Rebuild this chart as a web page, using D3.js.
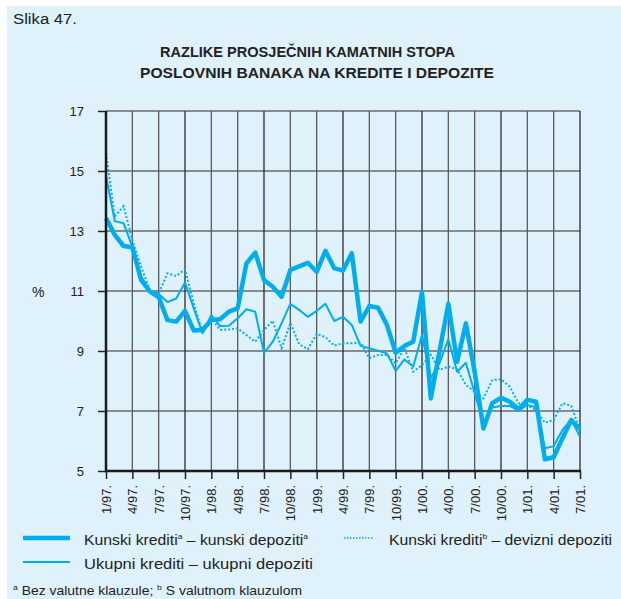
<!DOCTYPE html>
<html>
<head>
<meta charset="utf-8">
<script src="https://cdn.jsdelivr.net/npm/d3@7"></script>
<style>
  html, body { margin: 0; padding: 0; background: #ffffff; }
  svg { display: block; font-family: "Liberation Sans", Arial, sans-serif; }
</style>
</head>
<body>
<svg id="chart" width="621" height="599"></svg>
<script>
// Monthly spreads, January 1997 – July 2001 (percentage points)
const quarterLabels = ["1/97.","4/97.","7/97.","10/97.","1/98.","4/98.","7/98.","10/98.",
  "1/99.","4/99.","7/99.","10/99.","1/00.","4/00.","7/00.","10/00.","1/01.","4/01.","7/01."];

const yTicks = [5, 7, 9, 11, 13, 15, 17];

// Kunski krediti (bez valutne klauzule) – kunski depoziti
const kunskiKunski = [13.43,12.87,12.5,12.46,11.37,10.98,10.8,10.03,9.98,10.34,9.68,9.7,
  10.03,10.06,10.31,10.42,11.92,12.28,11.37,11.14,10.81,11.7,11.82,11.94,
  11.64,12.34,11.76,11.68,12.26,9.98,10.5,10.44,9.87,8.94,9.17,9.31,
  10.98,7.42,9.0,10.57,8.64,9.92,8.3,6.42,7.26,7.44,7.31,7.06,
  7.37,7.31,5.39,5.46,6.09,6.7,6.39];

// Ukupni krediti – ukupni depoziti
const ukupni = [14.83,13.33,13.26,12.48,11.48,11.0,10.9,10.63,10.75,11.28,10.42,9.59,
  10.2,9.83,9.84,10.09,10.39,10.31,8.94,9.31,9.92,10.57,10.37,10.14,
  10.34,10.57,10.0,10.14,9.87,9.17,9.09,9.01,8.92,8.34,8.72,8.48,
  9.53,8.1,8.6,9.39,8.31,8.61,7.6,6.59,7.12,7.17,7.17,7.01,
  7.2,7.12,5.76,5.83,6.37,6.72,6.14];

// Kunski krediti (s valutnom klauzulom) – devizni depoziti
const kunskiDevizni = [15.59,13.48,13.83,12.7,11.81,11.03,10.92,11.59,11.5,11.72,10.59,9.59,
  10.1,9.7,9.72,9.76,9.53,9.31,9.7,10.01,9.09,9.94,9.23,9.06,
  9.57,9.46,9.18,9.26,9.26,9.28,8.76,8.87,8.87,8.59,9.09,8.31,
  8.53,8.87,8.37,8.48,8.39,7.87,7.64,7.42,8.03,8.06,7.81,7.26,
  7.2,7.03,6.61,6.7,7.26,7.17,6.37];

const lineColor = "#00aeef";
const svg = d3.select("#chart");

// panel background
svg.append("rect").attr("x", 7).attr("y", 6).attr("width", 614).attr("height", 593)
  .attr("fill", "#dff1fb");

const plot = { left: 106, right: 580, top: 111, bottom: 471 };
const x = d3.scaleLinear().domain([0, kunskiKunski.length - 1]).range([plot.left, plot.right]);
const y = d3.scaleLinear().domain([5, 17]).range([plot.bottom, plot.top]);
const quarterIdx = quarterLabels.map((d, i) => i * 3);

// headings
svg.append("text").attr("x", 13).attr("y", 24).attr("font-size", 14).attr("fill", "#222")
  .attr("textLength", 64).attr("lengthAdjust", "spacingAndGlyphs").text("Slika 47.");
svg.append("text").attr("x", 160).attr("y", 57).attr("font-size", 14).attr("font-weight", "bold")
  .attr("fill", "#222").attr("textLength", 295).attr("lengthAdjust", "spacingAndGlyphs")
  .text("RAZLIKE PROSJEČNIH KAMATNIH STOPA");
svg.append("text").attr("x", 140).attr("y", 78).attr("font-size", 14).attr("font-weight", "bold")
  .attr("fill", "#222").attr("textLength", 354).attr("lengthAdjust", "spacingAndGlyphs")
  .text("POSLOVNIH BANAKA NA KREDITE I DEPOZITE");

// grid
const grid = svg.append("g");
grid.selectAll("line.h").data(yTicks).join("line")
  .attr("x1", plot.left).attr("x2", plot.right)
  .attr("y1", d => y(d)).attr("y2", d => y(d))
  .attr("stroke", "#6a6a6a").attr("stroke-width", 1.5);
grid.selectAll("line.v").data(quarterIdx).join("line")
  .attr("x1", d => x(d)).attr("x2", d => x(d))
  .attr("y1", plot.top).attr("y2", plot.bottom)
  .attr("stroke", (d, i) => i % 3 === 0 ? "#2a2a2a" : "#5a5a5a").attr("stroke-width", 1.3);

// series
const line = d3.line().x((d, i) => x(i)).y(d => y(d));
svg.append("path").datum(kunskiDevizni).attr("d", line).attr("fill", "none")
  .attr("stroke", lineColor).attr("stroke-width", 2).attr("stroke-dasharray", "2,2");
svg.append("path").datum(ukupni).attr("d", line).attr("fill", "none")
  .attr("stroke", lineColor).attr("stroke-width", 2).attr("stroke-linejoin", "round");
svg.append("path").datum(kunskiKunski).attr("d", line).attr("fill", "none")
  .attr("stroke", lineColor).attr("stroke-width", 4.5).attr("stroke-linejoin", "round");

// axes
const yAxis = svg.append("g").attr("transform", `translate(${plot.left},0)`)
  .call(d3.axisLeft(y).tickValues(yTicks).tickSize(8).tickPadding(14).tickFormat(d3.format("d")));
const xAxis = svg.append("g").attr("transform", `translate(0,${plot.bottom})`)
  .call(d3.axisBottom(x).tickValues(quarterIdx).tickSize(8).tickFormat((d, i) => quarterLabels[i]));
[yAxis, xAxis].forEach(g => {
  g.select(".domain").remove();
  g.selectAll(".tick line").attr("stroke", "#222").attr("stroke-width", 1.5);
  g.selectAll("text").attr("fill", "#222").attr("font-size", 13)
    .attr("font-family", "Liberation Sans, Arial, sans-serif");
});
xAxis.selectAll(".tick text")
  .attr("transform", "rotate(-90)").attr("text-anchor", "end")
  .attr("x", -14).attr("y", 0).attr("dy", "0.35em");
svg.append("line").attr("x1", plot.left).attr("x2", plot.left)
  .attr("y1", plot.top).attr("y2", plot.bottom + 1).attr("stroke", "#1a1a1a").attr("stroke-width", 2.5);
svg.append("line").attr("x1", plot.left - 1).attr("x2", plot.right + 1)
  .attr("y1", plot.bottom).attr("y2", plot.bottom).attr("stroke", "#1a1a1a").attr("stroke-width", 2.5);

svg.append("text").attr("x", 32).attr("y", 297).attr("font-size", 14).attr("fill", "#222").text("%");

// legend
const lg = svg.append("g").attr("fill", "#222").attr("font-size", 15);
lg.append("line").attr("x1", 23).attr("x2", 70).attr("y1", 538).attr("y2", 538)
  .attr("stroke", lineColor).attr("stroke-width", 4.5);
const t1 = lg.append("text").attr("x", 84).attr("y", 545)
  .attr("textLength", 224).attr("lengthAdjust", "spacingAndGlyphs");
t1.append("tspan").text("Kunski krediti");
t1.append("tspan").attr("font-size", 8).attr("dy", -6).text("a");
t1.append("tspan").attr("dy", 6).text(" – kunski depoziti");
t1.append("tspan").attr("font-size", 8).attr("dy", -6).text("a");

lg.append("line").attr("x1", 344).attr("x2", 374).attr("y1", 538).attr("y2", 538)
  .attr("stroke", lineColor).attr("stroke-width", 1.5).attr("stroke-dasharray", "1.5,1.5");
const t2 = lg.append("text").attr("x", 389).attr("y", 545)
  .attr("textLength", 223).attr("lengthAdjust", "spacingAndGlyphs");
t2.append("tspan").text("Kunski krediti");
t2.append("tspan").attr("font-size", 8).attr("dy", -6).text("b");
t2.append("tspan").attr("dy", 6).text(" – devizni depoziti");

lg.append("line").attr("x1", 23).attr("x2", 70).attr("y1", 562).attr("y2", 562)
  .attr("stroke", lineColor).attr("stroke-width", 2);
lg.append("text").attr("x", 84).attr("y", 569)
  .attr("textLength", 229).attr("lengthAdjust", "spacingAndGlyphs")
  .text("Ukupni krediti – ukupni depoziti");

const fn = svg.append("text").attr("x", 13).attr("y", 595).attr("font-size", 13).attr("fill", "#222")
  .attr("textLength", 289).attr("lengthAdjust", "spacingAndGlyphs");
fn.append("tspan").attr("font-size", 8).attr("dy", -5).text("a");
fn.append("tspan").attr("dy", 5).text(" Bez valutne klauzule; ");
fn.append("tspan").attr("font-size", 8).attr("dy", -5).text("b");
fn.append("tspan").attr("dy", 5).text(" S valutnom klauzulom");
</script>
</body>
</html>
